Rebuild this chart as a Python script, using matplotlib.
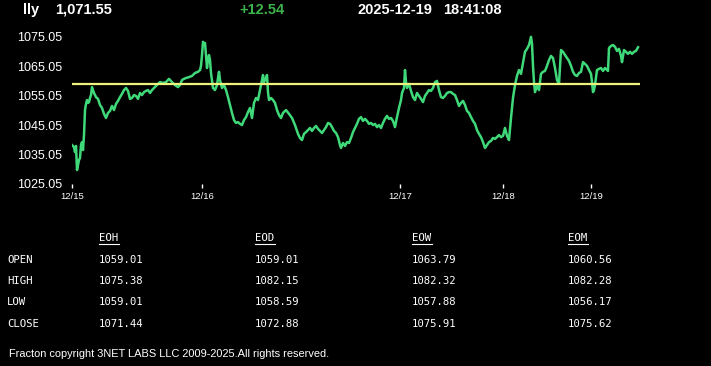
import matplotlib
matplotlib.use("Agg")
import matplotlib.pyplot as plt
from matplotlib.lines import Line2D

## intraday trace, t = session time steps, price
t = [0, 2, 3, 4, 5, 6, 7, 8, 9, 10,
     11, 12, 13, 14, 15, 16, 17, 18, 19, 20,
     21, 22, 24, 26, 28, 30, 32, 34, 36, 38,
     40, 42, 44, 46, 48, 50, 52, 54, 56, 58,
     60, 62, 64, 66, 68, 70, 72, 74, 76, 78,
     80, 82, 84, 86, 88, 91, 94, 97, 100, 103,
     106, 108, 110, 112, 114, 117, 120, 123, 126, 128,
     129, 130, 131, 132, 133, 134, 135, 136, 137, 138,
     139, 141, 143, 145, 146, 147, 148, 150, 152, 154,
     156, 158, 160, 162, 164, 166, 168, 170, 172, 174,
     176, 178, 180, 182, 184, 186, 188, 190, 191, 192,
     194, 195, 196, 197, 199, 201, 203, 205, 207, 209,
     211, 214, 217, 220, 223, 226, 228, 230, 232, 234,
     236, 238, 240, 242, 244, 246, 248, 250, 252, 254,
     256, 258, 260, 262, 264, 266, 268, 269, 271, 273,
     275, 277, 279, 281, 283, 285, 287, 289, 291, 293,
     295, 297, 299, 301, 303, 305, 307, 309, 311, 313,
     315, 317, 319, 321, 323, 325, 327, 329, 330, 332,
     333, 334, 335, 337, 339, 341, 343, 345, 347, 349,
     351, 353, 355, 357, 359, 361, 363, 365, 367, 369,
     371, 373, 375, 377, 379, 381, 383, 385, 387, 389,
     391, 393, 395, 397, 399, 401, 403, 405, 407, 409,
     411, 413, 415, 417, 419, 421, 423, 425, 427, 429,
     431, 433, 435, 437, 439, 441, 443, 445, 447, 449,
     451, 453, 455, 457, 459, 460, 461, 462, 463, 465,
     467, 469, 471, 473, 475, 477, 479, 481, 483, 485,
     487, 489, 491, 493, 495, 497, 499, 501, 503, 505,
     507, 509, 511, 513, 515, 517, 519, 520, 521, 522,
     523, 525, 527, 529, 531, 533, 535, 536, 537, 539,
     541, 543, 545, 547, 549, 550, 552, 554, 556, 558,
     560, 562, 564, 566]

price = [1038.3, 1037.6, 1035.9, 1038.0, 1029.8, 1031.5, 1033.2, 1033.9, 1038.3, 1039.3,
         1036.6, 1041.7, 1050.2, 1052.3, 1053.6, 1052.6, 1052.9, 1054.3, 1055.3, 1058.0,
         1057.0, 1056.0, 1054.6, 1054.0, 1051.9, 1050.9, 1048.9, 1047.5, 1049.2, 1049.9,
         1051.6, 1050.2, 1052.3, 1053.3, 1054.6, 1055.7, 1057.0, 1057.7, 1056.7, 1054.0,
         1054.3, 1055.3, 1055.0, 1054.0, 1056.0, 1055.3, 1056.3, 1056.7, 1057.0, 1056.0,
         1057.0, 1057.7, 1058.4, 1059.1, 1059.7, 1059.4, 1059.7, 1060.8, 1059.7, 1058.7,
         1058.0, 1058.7, 1060.4, 1060.8, 1061.1, 1061.4, 1061.8, 1062.8, 1063.2, 1063.8,
         1065.2, 1068.9, 1073.4, 1072.7, 1073.0, 1068.9, 1064.5, 1067.2, 1068.9, 1067.2,
         1062.8, 1057.7, 1057.0, 1058.7, 1061.1, 1063.2, 1060.4, 1057.7, 1058.7, 1057.0,
         1054.6, 1051.9, 1049.2, 1046.8, 1045.8, 1046.1, 1045.5, 1045.1, 1046.8, 1047.8,
         1049.5, 1050.9, 1047.5, 1052.6, 1054.3, 1053.6, 1057.0, 1060.4, 1062.1, 1059.7,
         1061.1, 1062.1, 1056.3, 1053.6, 1054.3, 1053.6, 1052.6, 1050.2, 1048.5, 1047.5,
         1049.2, 1050.2, 1048.9, 1047.5, 1045.1, 1042.1, 1040.7, 1040.0, 1042.1, 1042.7,
         1043.4, 1044.1, 1043.1, 1044.1, 1044.8, 1043.8, 1043.1, 1042.4, 1043.4, 1044.4,
         1045.8, 1045.5, 1044.4, 1043.1, 1042.4, 1041.0, 1038.3, 1037.3, 1039.0, 1038.0,
         1039.3, 1039.0, 1040.7, 1042.7, 1044.1, 1045.5, 1047.2, 1047.8, 1046.5, 1047.2,
         1046.5, 1045.5, 1045.8, 1045.1, 1045.5, 1044.4, 1045.1, 1044.1, 1045.8, 1047.2,
         1048.2, 1047.2, 1047.5, 1046.5, 1044.4, 1047.8, 1050.9, 1053.6, 1056.0, 1057.7,
         1063.8, 1059.7, 1057.7, 1059.1, 1056.7, 1054.6, 1053.6, 1056.0, 1055.0, 1054.0,
         1052.9, 1055.0, 1056.0, 1057.0, 1056.7, 1057.7, 1059.7, 1060.1, 1057.0, 1054.6,
         1054.3, 1055.0, 1056.0, 1056.3, 1056.3, 1055.7, 1055.3, 1053.6, 1051.6, 1052.6,
         1053.3, 1051.9, 1049.9, 1049.2, 1047.8, 1046.5, 1045.5, 1043.4, 1042.1, 1041.0,
         1039.3, 1037.3, 1038.3, 1039.3, 1039.7, 1040.7, 1040.4, 1041.0, 1041.7, 1041.0,
         1041.4, 1044.1, 1041.4, 1040.0, 1047.5, 1054.3, 1058.7, 1061.8, 1063.8, 1062.5,
         1066.2, 1070.0, 1071.0, 1072.3, 1075.1, 1072.7, 1065.2, 1059.7, 1056.3, 1058.4,
         1057.0, 1062.5, 1063.2, 1063.5, 1065.2, 1067.2, 1068.6, 1067.9, 1064.5, 1060.4,
         1059.1, 1070.6, 1070.0, 1068.9, 1067.9, 1066.9, 1065.2, 1063.2, 1062.1, 1061.8,
         1062.8, 1063.2, 1066.5, 1065.9, 1065.2, 1063.8, 1062.5, 1059.7, 1056.3, 1057.0,
         1058.7, 1063.8, 1064.2, 1064.5, 1063.5, 1064.5, 1063.8, 1063.5, 1071.3, 1072.0,
         1072.3, 1071.7, 1070.3, 1071.0, 1068.6, 1066.5, 1070.6, 1070.0, 1069.3, 1070.0,
         1069.3, 1070.0, 1070.3, 1071.55]

ref_level = 1059.01
day_ticks = [0, 130, 328, 431, 519]
day_labels = ["12/15", "12/16", "12/17", "12/18", "12/19"]
y_ticks = [1025.05, 1035.05, 1045.05, 1055.05, 1065.05, 1075.05]

symbol = "lly"
last = "1,071.55"
change = "+12.54"
stamp_date = "2025-12-19"
stamp_time = "18:41:08"

col_names = ["EOH", "EOD", "EOW", "EOM"]
row_names = ["OPEN", "HIGH", "LOW", "CLOSE"]
opens = ["1059.01", "1059.01", "1063.79", "1060.56"]
highs = ["1075.38", "1082.15", "1082.32", "1082.28"]
lows = ["1059.01", "1058.59", "1057.88", "1056.17"]
closes = ["1071.44", "1072.88", "1075.91", "1075.62"]

W, H = 711, 366
fig = plt.figure(figsize=(W / 100, H / 100), dpi=100, facecolor="black")

def fx(x):
    return x / W

def fy(y):
    return 1 - y / H

# chart area
ax = fig.add_axes([fx(72), fy(184), fx(640) - fx(72), fy(32.7) - fy(184)])
ax.set_facecolor("black")
ax.plot(t, price, color="#3fd97a", lw=1.8, zorder=2)
ax.axhline(ref_level, color="#eef27c", lw=1.6, zorder=3)
ax.set_xlim(0, 568)
ax.set_ylim(1025.05, 1076.5)
for s in ax.spines.values():
    s.set_visible(False)
ax.set_yticks(y_ticks)
ax.set_yticklabels(["%.2f" % v for v in y_ticks])
ax.tick_params(axis="y", length=0, pad=7, labelcolor="white", labelsize=9)
ax.set_xticks(day_ticks)
ax.set_xticklabels(day_labels)
ax.tick_params(axis="x", length=3, width=1, color="white", pad=3,
               labelcolor="white", labelsize=6.8)
for lab in ax.get_yticklabels() + ax.get_xticklabels():
    lab.set_fontfamily("Liberation Sans")

# header
hdr = dict(color="white", fontsize=10.5, fontweight="bold",
           family="Liberation Sans", va="center")
fig.text(fx(23), fy(10), symbol, **hdr)
fig.text(fx(55), fy(10), last, **hdr)
fig.text(fx(239), fy(10), change, **dict(hdr, color="#3cb44b"))
fig.text(fx(357), fy(10), stamp_date, **hdr)
fig.text(fx(443), fy(10), stamp_time, **hdr)

# stats table
mono = dict(color="white", fontsize=7.7, family="DejaVu Sans Mono", va="center")
col_x = [99, 255, 412, 568]
row_y = [260, 281, 302, 324]
for cx, name in zip(col_x, col_names):
    fig.text(fx(cx), fy(238), name, **mono)
    fig.add_artist(Line2D([fx(cx), fx(cx + 20)], [fy(244), fy(244)],
                          color="white", lw=0.8))
for ry, name in zip(row_y, row_names):
    fig.text(fx(7), fy(ry), name, **mono)
for ry, vals in zip(row_y, [opens, highs, lows, closes]):
    for cx, v in zip(col_x, vals):
        fig.text(fx(cx), fy(ry), v, **mono)

fig.text(fx(9), fy(354), "Fracton copyright 3NET LABS LLC 2009-2025.All rights reserved.",
         color="white", fontsize=7.9, family="Liberation Sans", va="center")

fig.savefig("out.png", dpi=100, facecolor="black")
